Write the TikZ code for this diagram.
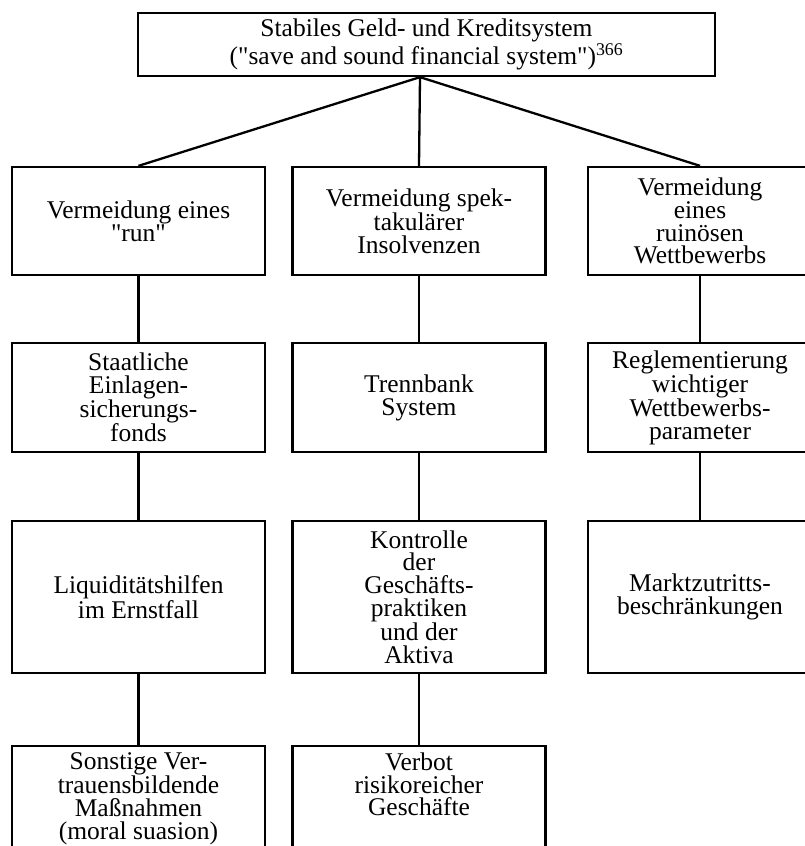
\documentclass[tikz,border=0pt]{standalone}
\usepackage{fontspec}
\setmainfont{Liberation Serif}
\newcommand{\qd}{\textquotedbl}
\begin{document}
\begin{tikzpicture}[x=1pt,y=-1pt,
    box/.style={draw,line width=2.3pt,align=center,inner sep=3pt,
      font=\fontsize{25.5}{22.8}\selectfont},
    wbox/.style={box,minimum width=253pt},
    rbox/.style={box,minimum width=224pt},
    link/.style={line width=2.3pt}]
  \clip (0,0) rectangle (805,846);
  % top
  \node[box,minimum width=577pt,minimum height=63pt] (top) at (426.5,44.5)
    {Stabiles Geld- und Kreditsystem\\(\qd save and sound financial system\qd)\textsuperscript{366}};
  % first row
  \node[wbox,minimum height=108pt] (run) at (138.5,221) {Vermeidung eines\\\qd run\qd};
  \node[wbox,minimum height=108pt] (insolv) at (419,221) {Vermeidung spek-\\takulärer\\Insolvenzen};
  \node[rbox,minimum height=108pt] (wettb) at (700,221) {Vermeidung\\eines\\ruinösen\\Wettbewerbs};
  % second row
  \node[wbox,minimum height=109pt] (fonds) at (138.5,397.5) {Staatliche\\Einlagen-\\sicherungs-\\fonds};
  \node[wbox,minimum height=109pt] (trenn) at (419,397.5) {Trennbank\\System};
  \node[rbox,minimum height=109pt] (param) at (700,397.5) {Reglementierung\\wichtiger\\Wettbewerbs-\\parameter};
  % third row
  \node[wbox,minimum height=152pt] (ernst) at (138.5,597) {Liquiditätshilfen\\im Ernstfall};
  \node[wbox,minimum height=152pt] (aktiva) at (419,597) {Kontrolle\\der\\Geschäfts-\\praktiken\\und der\\Aktiva};
  \node[rbox,minimum height=152pt] (zutritt) at (700,597) {Marktzutritts-\\beschränkungen};
  % fourth row, runs off the page
  \node[wbox,anchor=north,inner ysep=6.5pt] (moral) at (138.5,745)
    {\parbox[t][130pt][t]{230pt}{\centering Sonstige Ver-\\trauensbildende\\Maßnahmen\\(moral suasion)}};
  \node[wbox,anchor=north,inner ysep=6.5pt] (verbot) at (419,745)
    {\parbox[t][130pt][t]{230pt}{\centering Verbot\\risikoreicher\\Geschäfte}};
  % connectors
  \coordinate (hub) at ([xshift=-6.5pt]top.south);
  \draw[link] (hub) -- (run.north) (hub) -- (insolv.north) (hub) -- (wettb.north);
  \draw[link] (run.south) -- (fonds.north) (fonds.south) -- (ernst.north) (ernst.south) -- (moral.north);
  \draw[link] (insolv.south) -- (trenn.north) (trenn.south) -- (aktiva.north) (aktiva.south) -- (verbot.north);
  \draw[link] (wettb.south) -- (param.north) (param.south) -- (zutritt.north);
\end{tikzpicture}
\end{document}
